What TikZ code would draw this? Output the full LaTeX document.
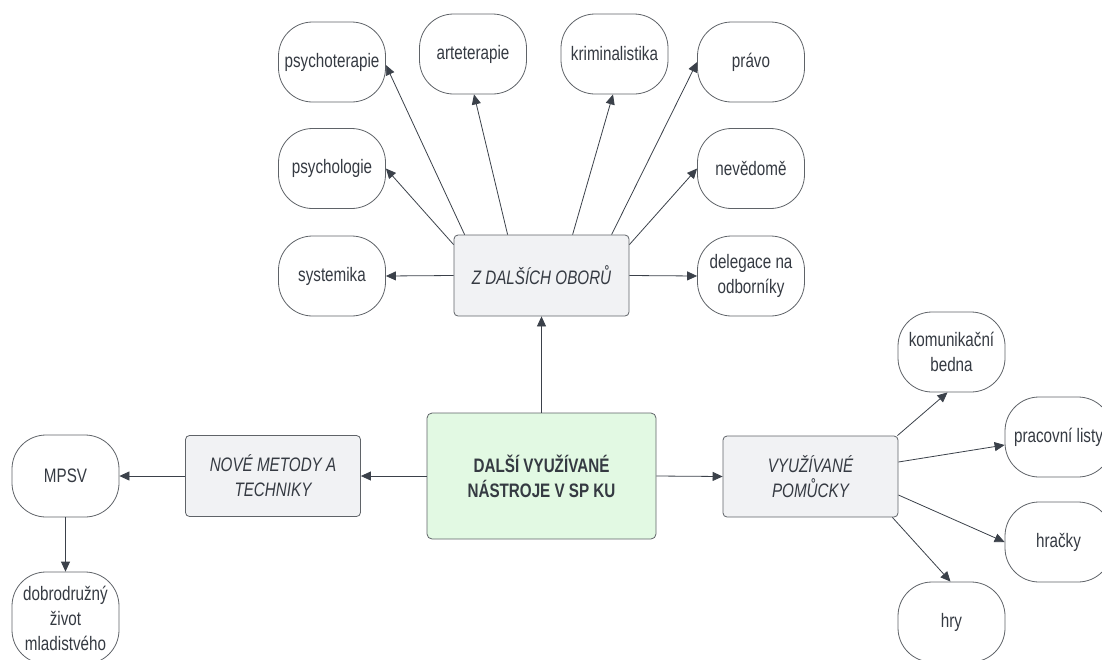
\documentclass[tikz,border=0pt]{standalone}
\usepackage{fontspec}
\setmainfont{Liberation Sans}[FakeStretch=0.78]
\usetikzlibrary{arrows.meta}
\definecolor{txt}{HTML}{353A42}
\definecolor{edge}{HTML}{3B414A}
\definecolor{bord}{HTML}{5F6368}
\definecolor{grayfill}{HTML}{F1F2F4}
\definecolor{greenfill}{HTML}{E2F9E3}
\tikzset{
  leaf/.style={draw=bord, line width=0.8pt, fill=white, rounded corners=34pt,
    minimum width=107pt, minimum height=80pt, inner sep=2pt, align=center,
    text=txt, font=\fontsize{19.5}{25}\selectfont},
  cat/.style={draw=bord, line width=0.8pt, fill=grayfill, rounded corners=4pt,
    minimum width=175pt, minimum height=81pt, inner sep=2pt, align=center,
    text=txt, font=\fontsize{19.5}{25}\selectfont\itshape},
  hub/.style={draw=bord, line width=0.8pt, fill=greenfill, rounded corners=5pt,
    minimum width=229pt, minimum height=126pt, inner sep=2pt, align=center,
    text=txt, font=\fontsize{19.5}{25}\selectfont\bfseries},
  conn/.style={draw=edge, line width=0.8pt, -{Triangle[length=10pt,width=9pt]}}
}
\begin{document}
\begin{tikzpicture}[x=1pt,y=-1pt]
\useasboundingbox (0,0) rectangle (1102,659);
\clip (0,0) rectangle (1102,659);
% category and hub
\node[hub] (hub) at (541.5,476) {DALŠÍ VYUŽÍVANÉ\\NÁSTROJE V SP KU};
\node[cat] (z) at (541.5,275.5) {Z DALŠÍCH OBORŮ};
\node[cat] (nove) at (273,476) {NOVÉ METODY A\\TECHNIKY};
\node[cat] (vyu) at (810.5,476.5) {VYUŽÍVANÉ\\POMŮCKY};
% leaves top
\node[leaf] (psy) at (332,62) {psychoterapie};
\node[leaf] (art) at (473,54) {arteterapie};
\node[leaf] (krim) at (614.5,54) {kriminalistika};
\node[leaf] (pravo) at (751,62) {právo};
\node[leaf] (psychol) at (332,168.5) {psychologie};
\node[leaf] (nev) at (751,168.5) {nevědomě};
\node[leaf] (sys) at (332,276) {systemika};
\node[leaf] (del) at (751,276) {delegace na\\odborníky};
% left
\node[leaf, minimum height=82pt] (mpsv) at (65.5,476) {MPSV};
\node[leaf, minimum height=92pt] (dob) at (65.5,618) {dobrodružný\\život\\mladistvého};
% right
\node[leaf] (kom) at (951.5,352) {komunikační\\bedna};
\node[leaf] (prac) at (1058.5,437) {pracovní listy};
\node[leaf] (hrac) at (1058.5,542) {hračky};
\node[leaf] (hry) at (951.5,622) {hry};
% connectors
\draw[conn] ([xshift=11pt]z.north west) -- ([yshift=-3pt]psy.east);
\draw[conn] ([yshift=-10pt]z.north west) -- (psychol.east);
\draw[conn] ([xshift=54pt]z.north west) -- ([xshift=1pt]art.south);
\draw[conn] ([xshift=119pt]z.north west) -- ([xshift=-1.5pt]krim.south);
\draw[conn] ([xshift=158pt]z.north west) -- (pravo.west);
\draw[conn] ([yshift=-10pt]z.north east) -- (nev.west);
\draw[conn] (z.west) -- (sys.east);
\draw[conn] (z.east) -- (del.west);
\draw[conn] (hub.north) -- (z.south);
\draw[conn] (hub.west) -- (nove.east);
\draw[conn] (nove.west) -- (mpsv.east);
\draw[conn] (mpsv.south) -- (dob.north);
\draw[conn] (hub.east) -- (vyu.west);
\draw[conn] ([xshift=-1pt]vyu.north east) -- ([xshift=-4pt]kom.south);
\draw[conn] ([yshift=14.5pt]vyu.east) -- ([yshift=-8pt]prac.west);
\draw[conn] ([yshift=-18.5pt]vyu.east) -- (hrac.west);
\draw[conn] ([xshift=-6pt]vyu.south east) -- ([xshift=-1pt]hry.north);
\end{tikzpicture}
\end{document}
